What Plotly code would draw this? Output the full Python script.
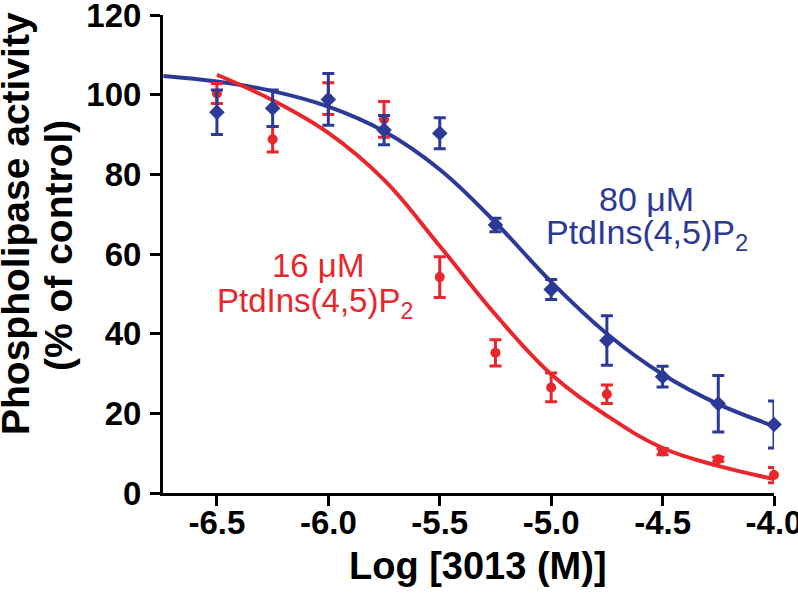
import plotly.graph_objects as go

# ---- data ----
dose = [-6.5, -6.25, -6.0, -5.75, -5.5, -5.25, -5.0, -4.75, -4.5, -4.25, -4.0]

blue_vals = [95.6, 96.6, 98.8, 91.1, 90.3, 67.3, 51.1, 38.3, 29.2, 22.4, 17.2]
blue_err = [5.6, 4.6, 6.5, 3.7, 3.9, 1.7, 2.5, 6.2, 2.6, 7.1, 5.9]

red_vals = [100.3, 88.8, 99.0, 93.8, 54.2, 35.2, 26.5, 24.8, 10.4, 8.5, 4.5]
red_err = [2.5, 3.2, 4.0, 4.5, 5.1, 3.3, 3.6, 2.3, 0.8, 0.5, 1.9]

blue_fit_x = [-6.74, -6.5, -6.25, -6.0, -5.75, -5.5, -5.25, -5.0, -4.75, -4.5, -4.25, -4.0]
blue_fit_y = [104.7, 103.3, 100.9, 97.0, 90.8, 81.2, 67.9, 53.0, 40.0, 29.8, 22.3, 16.8]

red_fit_x = [-6.5, -6.25, -6.0, -5.75, -5.5, -5.25, -5.0, -4.75, -4.5, -4.25, -4.0]
red_fit_y = [105.0, 98.6, 90.4, 78.6, 62.0, 44.8, 29.8, 19.4, 11.3, 6.8, 3.5]

x_tickvals = [-6.5, -6.0, -5.5, -5.0, -4.5, -4.0]
x_ticktext = ["-6.5", "-6.0", "-5.5", "-5.0", "-4.5", "-4.0"]
y_tickvals = [0, 20, 40, 60, 80, 100, 120]

BLUE = "#2B3A96"
RED = "#E8262B"
FONT = "Liberation Sans, Arial, sans-serif"

fig = go.Figure()

fig.add_trace(go.Scatter(x=blue_fit_x, y=blue_fit_y, mode="lines",
                         line=dict(color=BLUE, width=4, shape="spline", smoothing=1.1),
                         cliponaxis=False, hoverinfo="skip"))
fig.add_trace(go.Scatter(x=red_fit_x, y=red_fit_y, mode="lines",
                         line=dict(color=RED, width=4, shape="spline", smoothing=1.1),
                         cliponaxis=False, hoverinfo="skip"))
fig.add_trace(go.Scatter(x=dose, y=red_vals, mode="markers",
                         marker=dict(symbol="circle", size=10, color=RED),
                         error_y=dict(type="data", array=red_err, color=RED,
                                      thickness=3, width=6),
                         cliponaxis=False))
fig.add_trace(go.Scatter(x=dose, y=blue_vals, mode="markers",
                         marker=dict(symbol="diamond", size=12, color=BLUE),
                         error_y=dict(type="data", array=blue_err, color=BLUE,
                                      thickness=3, width=6),
                         cliponaxis=False))

L, R, T, B = 163, 774, 15, 493
W, H = 798, 603


def px(xp):
    return (xp - L) / (R - L)


def py(yp):
    return (B - yp) / (B - T)


annos = [
    dict(text="16 \u03bcM", x=px(318), y=py(265), color=RED, size=33, bold=False, angle=0),
    dict(text="PtdIns(4,5)P<sub>2</sub>", x=px(315), y=py(303), color=RED, size=33, bold=False, angle=0),
    dict(text="80 \u03bcM", x=px(646), y=py(199), color=BLUE, size=34, bold=False, angle=0),
    dict(text="PtdIns(4,5)P<sub>2</sub>", x=px(647), y=py(234), color=BLUE, size=34, bold=False, angle=0),
    dict(text="Log [3013 (M)]", x=px(478), y=py(566), color="black", size=38, bold=True, angle=0),
    dict(text="Phospholipase activity", x=px(15), y=py(224), color="black", size=39, bold=True, angle=-90),
    dict(text="(% of control)", x=px(59), y=py(246), color="black", size=39, bold=True, angle=-90),
]
for a in annos:
    fig.add_annotation(
        text=a["text"], x=a["x"], y=a["y"], xref="paper", yref="paper",
        xanchor="center", yanchor="middle", showarrow=False, textangle=a["angle"],
        font=dict(family=FONT, size=a["size"], color=a["color"],
                  weight=700 if a["bold"] else 400),
    )

axis_common = dict(
    showline=True, linecolor="black", linewidth=3, mirror=False,
    ticks="outside", ticklen=10, tickwidth=3, tickcolor="black",
    showgrid=False, zeroline=False, ticklabeloverflow="allow", automargin=False,
    tickfont=dict(family=FONT, size=33, color="black", weight=700),
)

fig.update_xaxes(range=[-6.742, -4.0], tickvals=x_tickvals, ticktext=x_ticktext,
                 ticklabelstandoff=-12, **axis_common)
fig.update_yaxes(range=[0, 120], tickvals=y_tickvals, ticklabelstandoff=2,
                 **axis_common)

fig.update_layout(
    width=W, height=H,
    margin=dict(l=L, r=W - R, t=T, b=H - B, pad=0, autoexpand=False),
    paper_bgcolor="white", plot_bgcolor="white",
    showlegend=False,
)

fig.write_html("out.html", config={"displayModeBar": False},
               post_script="document.body.style.margin='0px';")
